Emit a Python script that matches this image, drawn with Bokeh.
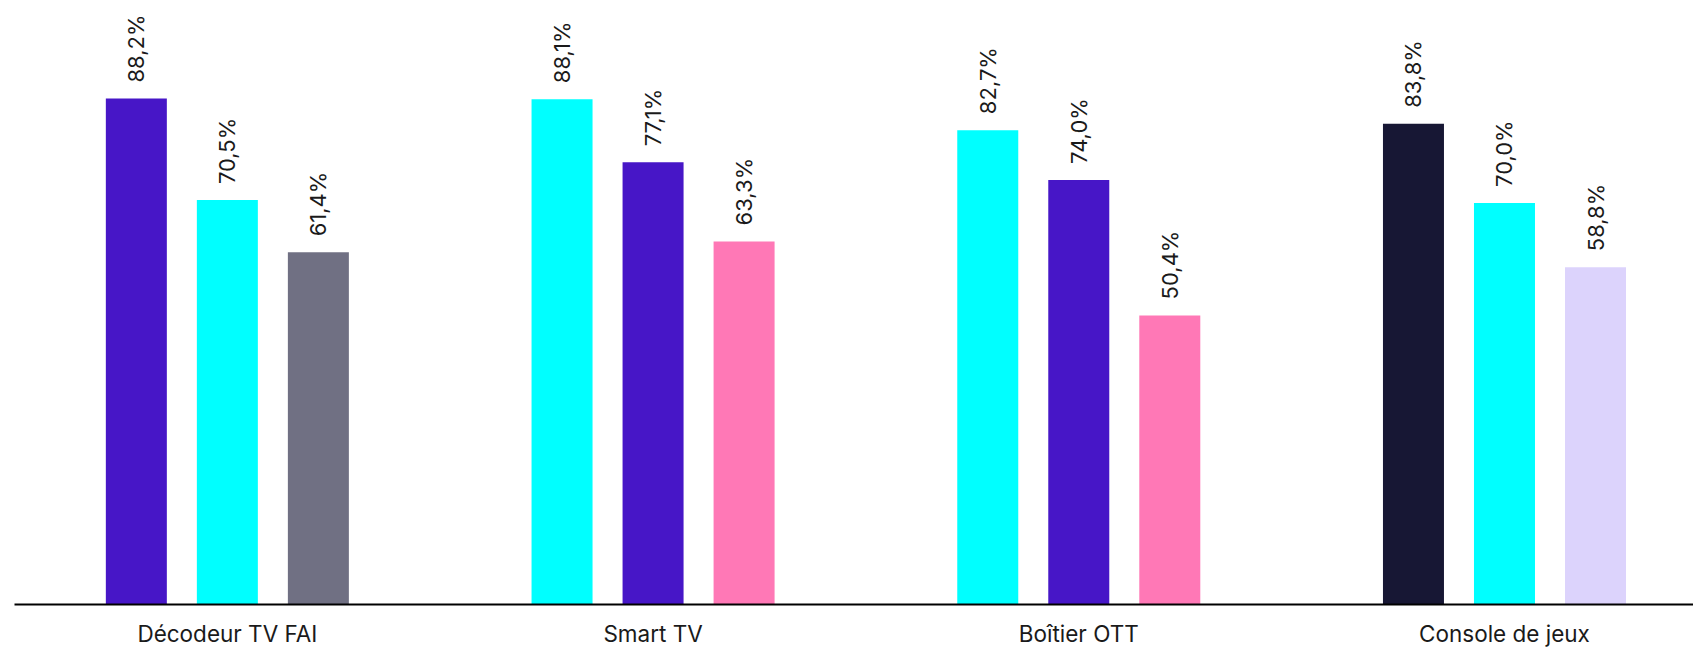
from bokeh.plotting import figure
from bokeh.models import ColumnDataSource, Range1d, FixedTicker
from bokeh.core.properties import value
from bokeh.embed import file_html
from bokeh.resources import INLINE

categories = ["Décodeur TV FAI", "Smart TV", "Boîtier OTT", "Console de jeux"]
values_1 = [88.2, 88.1, 82.7, 83.8]
values_2 = [70.5, 77.1, 74.0, 70.0]
values_3 = [61.4, 63.3, 50.4, 58.8]
colors_1 = ["#4716C7", "#00FFFF", "#00FFFF", "#171734"]
colors_2 = ["#00FFFF", "#4716C7", "#4716C7", "#00FFFF"]
colors_3 = ["#707083", "#FF78B6", "#FF78B6", "#DCD3FC"]

bar_w = 0.1433
offset = 0.2138

xs, ys, cs, labels = [], [], [], []
for i in range(len(categories)):
    for off, vals, cols in ((-offset, values_1, colors_1), (0.0, values_2, colors_2), (offset, values_3, colors_3)):
        xs.append(i + 0.5 + off)
        ys.append(vals[i])
        cs.append(cols[i])
        labels.append(f"{vals[i]:.1f}%".replace(".", ","))

src = ColumnDataSource(dict(x=xs, top=ys, color=cs, label=labels))

p = figure(frame_width=1679, frame_height=604, output_backend="svg", toolbar_location=None,
           x_range=Range1d(0, 3.944), y_range=Range1d(0, 105.3),
           min_border_left=14, min_border_right=0, min_border_top=0, min_border_bottom=40)
p.outline_line_color = None
p.background_fill_color = "white"
p.border_fill_color = "white"
p.grid.visible = False
p.yaxis.visible = False

p.vbar(x="x", top="top", width=bar_w, bottom=0, color="color", line_color=None, source=src)
p.text(x="x", y="top", text="label", source=src, angle=1.5708, y_offset=-16,
       text_align="left", text_baseline="middle", text_font=value("Inter"),
       text_font_size="22px", text_color="#1a1a1a")

p.xaxis.ticker = FixedTicker(ticks=[0.5, 1.5, 2.5, 3.5])
p.xaxis.major_label_overrides = {0.5: categories[0], 1.5: categories[1], 2.5: categories[2], 3.5: categories[3]}
p.xaxis.major_tick_line_color = None
p.xaxis.minor_tick_line_color = None
p.xaxis.axis_line_color = "#000000"
p.xaxis.axis_line_width = 2
p.xaxis.major_label_text_font = "Inter"
p.xaxis.major_label_text_font_size = "22.5px"
p.xaxis.major_label_text_color = "#1a1a1a"
p.xaxis.major_label_standoff = 9

open("out.html", "w").write(file_html(p, INLINE))
